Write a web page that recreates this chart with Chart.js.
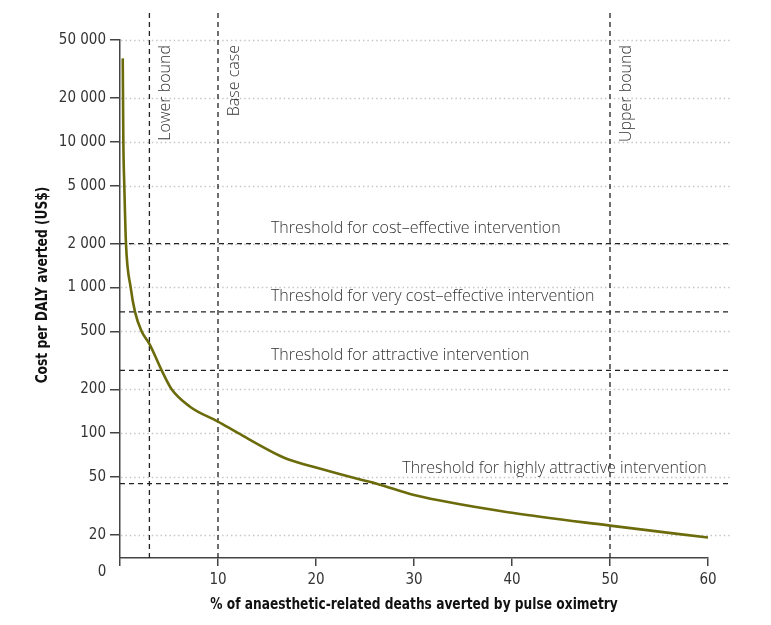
<!DOCTYPE html>
<html>
<head>
<meta charset="utf-8">
<script src="https://cdn.jsdelivr.net/npm/chart.js@4.4.1/dist/chart.umd.min.js"></script>
<style>
  html, body { margin: 0; padding: 0; background: #fff; }
  #wrap { width: 771px; height: 625px; }
</style>
</head>
<body>
<div id="wrap"><canvas id="chart" width="771" height="625"></canvas></div>
<script>
// ---- data ----
// % of anaesthetic-related deaths averted
const pctAverted = [0.28, 0.34, 0.44, 0.61, 1.09, 1.53, 2.2, 3, 4.25, 5.27, 7.14, 10, 12.07, 16.3, 17.2, 20, 24.5, 26.2, 30, 40, 50, 60];
// cost per DALY averted (US$)
const costPerDaly = [37400, 10300, 5000, 2000, 1000, 680, 500, 410, 270, 200, 152, 120, 100, 70, 66, 58, 48, 45, 37.6, 28.4, 23.2, 19.2];

// horizontal thresholds
const thresholdValues = [2000, 680, 270, 45];
const thresholdLabels = [
  "Threshold for cost\u2013effective intervention",
  "Threshold for very cost\u2013effective intervention",
  "Threshold for attractive intervention",
  "Threshold for highly attractive intervention"
];
const thresholdLabelX = [15.4, 15.4, 15.4, 28.8];

// vertical scenario lines
const scenarioX = [3, 10, 50];
const scenarioLabels = ["Lower bound", "Base case", "Upper bound"];

// axes
const yTicks = [20, 50, 100, 200, 500, 1000, 2000, 5000, 10000, 20000, 50000];
const xTicks = [0, 10, 20, 30, 40, 50, 60];
const yMin = 13.9, yMax = 50000;
const yLineTop = 78000;      // vertical dashed lines reach a bit above the axis
const lineRightX = 62.35;    // horizontal lines run a bit past x = 60

const condFont = "'DejaVu Sans Condensed', 'Liberation Sans Narrow', Roboto, sans-serif";
const noteFont = "'Open Sans', 'Liberation Sans', sans-serif";

function fmt(v) {
  return v >= 1000 ? String(v).replace(/(\d)(?=(\d{3})+$)/g, "$1 ") : String(v);
}

// ---- datasets ----
const datasets = [];
datasets.push({
  data: pctAverted.map((x, i) => ({ x: x, y: costPerDaly[i] })),
  borderColor: "#6b6b0c",
  borderWidth: 2.6,
  pointRadius: 0,
  cubicInterpolationMode: "monotone",
  order: 0
});
for (let i = 0; i < thresholdValues.length; i++) {
  datasets.push({
    data: [{ x: 0, y: thresholdValues[i] }, { x: lineRightX, y: thresholdValues[i] }],
    borderColor: "#222",
    borderWidth: 1.3,
    borderDash: [5, 4],
    pointRadius: 0,
    clip: false,
    order: 1
  });
}
for (let i = 0; i < scenarioX.length; i++) {
  datasets.push({
    data: [{ x: scenarioX[i], y: yMin }, { x: scenarioX[i], y: yLineTop }],
    borderColor: "#222",
    borderWidth: 1.3,
    borderDash: [5, 4],
    pointRadius: 0,
    clip: false,
    order: 1
  });
}

// dotted grid + annotation text
const extras = {
  id: "extras",
  beforeDatasetsDraw(chart) {
    const { ctx, chartArea, scales } = chart;
    const xr = scales.x.getPixelForValue(lineRightX);
    ctx.save();
    ctx.strokeStyle = "#c4c4c4";
    ctx.lineWidth = 1.4;
    ctx.setLineDash([1.4, 3]);
    yTicks.forEach(v => {
      const y = Math.round(scales.y.getPixelForValue(v)) + 0.5;
      ctx.beginPath();
      ctx.moveTo(chartArea.left + 1, y);
      ctx.lineTo(xr, y);
      ctx.stroke();
    });
    ctx.restore();
  },
  afterDraw(chart) {
    const { ctx, chartArea, scales } = chart;
    ctx.save();
    ctx.fillStyle = "#333";
    ctx.font = "300 16px " + noteFont;
    ctx.textBaseline = "middle";
    ctx.textAlign = "left";
    thresholdValues.forEach((v, i) => {
      ctx.fillText(thresholdLabels[i], scales.x.getPixelForValue(thresholdLabelX[i]), scales.y.getPixelForValue(v) - 15);
    });
    scenarioX.forEach((x, i) => {
      ctx.save();
      ctx.translate(scales.x.getPixelForValue(x) + 16, chartArea.top + 5);
      ctx.rotate(-Math.PI / 2);
      ctx.textAlign = "right";
      ctx.fillText(scenarioLabels[i], 0, 0);
      ctx.restore();
    });
    // origin label
    ctx.font = "15px " + condFont;
    ctx.textAlign = "center";
    ctx.fillText("0", chartArea.left - 18, chartArea.bottom + 14);
    // axis titles (squeezed to look like a condensed face)
    ctx.fillStyle = "#111";
    ctx.font = "bold 16px " + condFont;
    ctx.save();
    ctx.translate((chartArea.left + chartArea.right) / 2, chartArea.bottom + 47);
    ctx.scale(0.85, 1);
    ctx.fillText("% of anaesthetic-related deaths averted by pulse oximetry", 0, 0);
    ctx.restore();
    ctx.save();
    ctx.translate(43, (chartArea.top + chartArea.bottom) / 2 - 14);
    ctx.rotate(-Math.PI / 2);
    ctx.scale(0.85, 1);
    ctx.fillText("Cost per DALY averted (US$)", 0, 0);
    ctx.restore();
    ctx.restore();
  }
};

new Chart(document.getElementById("chart"), {
  type: "line",
  data: { datasets: datasets },
  options: {
    responsive: false,
    animation: false,
    layout: { padding: { top: 40, right: 63, left: 0, bottom: 0 } },
    plugins: { legend: { display: false }, tooltip: { enabled: false } },
    scales: {
      x: {
        type: "linear",
        min: 0,
        max: 60,
        afterBuildTicks: s => { s.ticks = xTicks.map(v => ({ value: v })); },
        afterFit: s => { s.height = 67; },
        border: { color: "#444", width: 1.5 },
        grid: { drawOnChartArea: false, tickLength: 8, color: "#444", lineWidth: 1.5 },
        ticks: {
          padding: 5,
          color: "#333",
          font: { family: condFont, size: 15 },
          callback: v => (v === 0 ? "" : String(v))
        }
      },
      y: {
        type: "logarithmic",
        min: yMin,
        max: yMax,
        afterBuildTicks: s => { s.ticks = yTicks.map(v => ({ value: v })); },
        afterFit: s => { s.width = 120; },
        border: { color: "#444", width: 1.5 },
        grid: { drawOnChartArea: false, tickLength: 10, color: "#444", lineWidth: 1.5 },
        ticks: {
          padding: 4,
          color: "#333",
          font: { family: condFont, size: 15 },
          callback: v => fmt(v)
        }
      }
    }
  },
  plugins: [extras]
});
</script>
</body>
</html>
